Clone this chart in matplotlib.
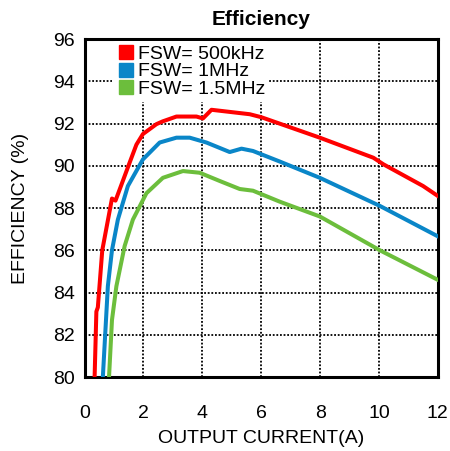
import matplotlib
matplotlib.use("Agg")
import matplotlib.pyplot as plt
from matplotlib.lines import Line2D

plt.rcParams['font.family'] = ['Liberation Sans', 'DejaVu Sans']

red_x = [0.34, 0.40, 0.45, 0.60, 0.93, 1.05, 1.53, 1.76, 1.98, 2.44, 2.65, 3.12, 3.80, 4.02, 4.31, 5.61, 6.0, 7.99, 9.81, 10.15, 11.5, 12.0]
red_y = [80.0, 83.1, 83.3, 86.0, 88.45, 88.35, 90.15, 91.0, 91.5, 91.97, 92.1, 92.33, 92.33, 92.24, 92.65, 92.44, 92.3, 91.33, 90.38, 90.07, 89.04, 88.57]

blue_x = [0.62, 0.79, 0.93, 1.13, 1.47, 1.98, 2.55, 3.12, 3.57, 4.14, 4.93, 5.33, 5.72, 6.63, 7.99, 10.03, 12.0]
blue_y = [80.0, 84.3, 86.0, 87.45, 89.04, 90.3, 91.1, 91.33, 91.33, 91.1, 90.65, 90.81, 90.7, 90.2, 89.43, 88.1, 86.66]

green_x = [0.83, 0.93, 1.08, 1.36, 1.64, 2.1, 2.66, 3.34, 3.91, 4.59, 5.27, 5.72, 6.63, 7.99, 10.03, 12.0]
green_y = [80.0, 82.7, 84.3, 86.2, 87.45, 88.7, 89.43, 89.75, 89.67, 89.28, 88.9, 88.82, 88.3, 87.6, 86.0, 84.6]

labels = ['FSW= 500kHz', 'FSW= 1MHz', 'FSW= 1.5MHz']
colors = ['#FF0000', '#0A86C8', '#6CBE3C']
xticks = [0, 2, 4, 6, 8, 10, 12]
yticks = [80, 82, 84, 86, 88, 90, 92, 94, 96]

fig = plt.figure(figsize=(4.5, 4.51), dpi=100)
ax = fig.add_axes([0.188, 0.164, 0.785, 0.7495])

for xs, ys, c in zip([red_x, blue_x, green_x], [red_y, blue_y, green_y], colors):
    ax.plot(xs, ys, color=c, lw=2.9, solid_joinstyle='round', zorder=3)

ax.set_xlim(0, 12)
ax.set_ylim(80, 96)
ax.set_xticks(xticks)
ax.set_yticks(yticks)
ax.tick_params(length=0, labelsize=14)
ax.tick_params(axis='x', pad=20)
ax.tick_params(axis='y', pad=7)
ax.grid(True, color='black', linestyle=(0, (1, 1)), lw=1.3, zorder=1)
for s in ax.spines.values():
    s.set_linewidth(2.2)
ax.set_title('Efficiency', fontsize=15, fontweight='bold', pad=10)
ax.set_xlabel('OUTPUT CURRENT(A)', fontsize=14, labelpad=6)
ax.set_ylabel('EFFICIENCY (%)', fontsize=14, labelpad=17)

handles = [Line2D([], [], marker='s', linestyle='none', markersize=9.5, markerfacecolor=c, markeredgecolor=c) for c in colors]
leg = ax.legend(handles, labels, loc='upper left', bbox_to_anchor=(0.05, 1.022), frameon=True,
                fontsize=14, handletextpad=0.15, labelspacing=0.0, borderpad=0.2, handlelength=1.0)
leg.get_frame().set_edgecolor('none')
leg.get_frame().set_facecolor('white')
leg.get_frame().set_alpha(1)
leg.set_zorder(5)

fig.savefig('out.png', dpi=100)
